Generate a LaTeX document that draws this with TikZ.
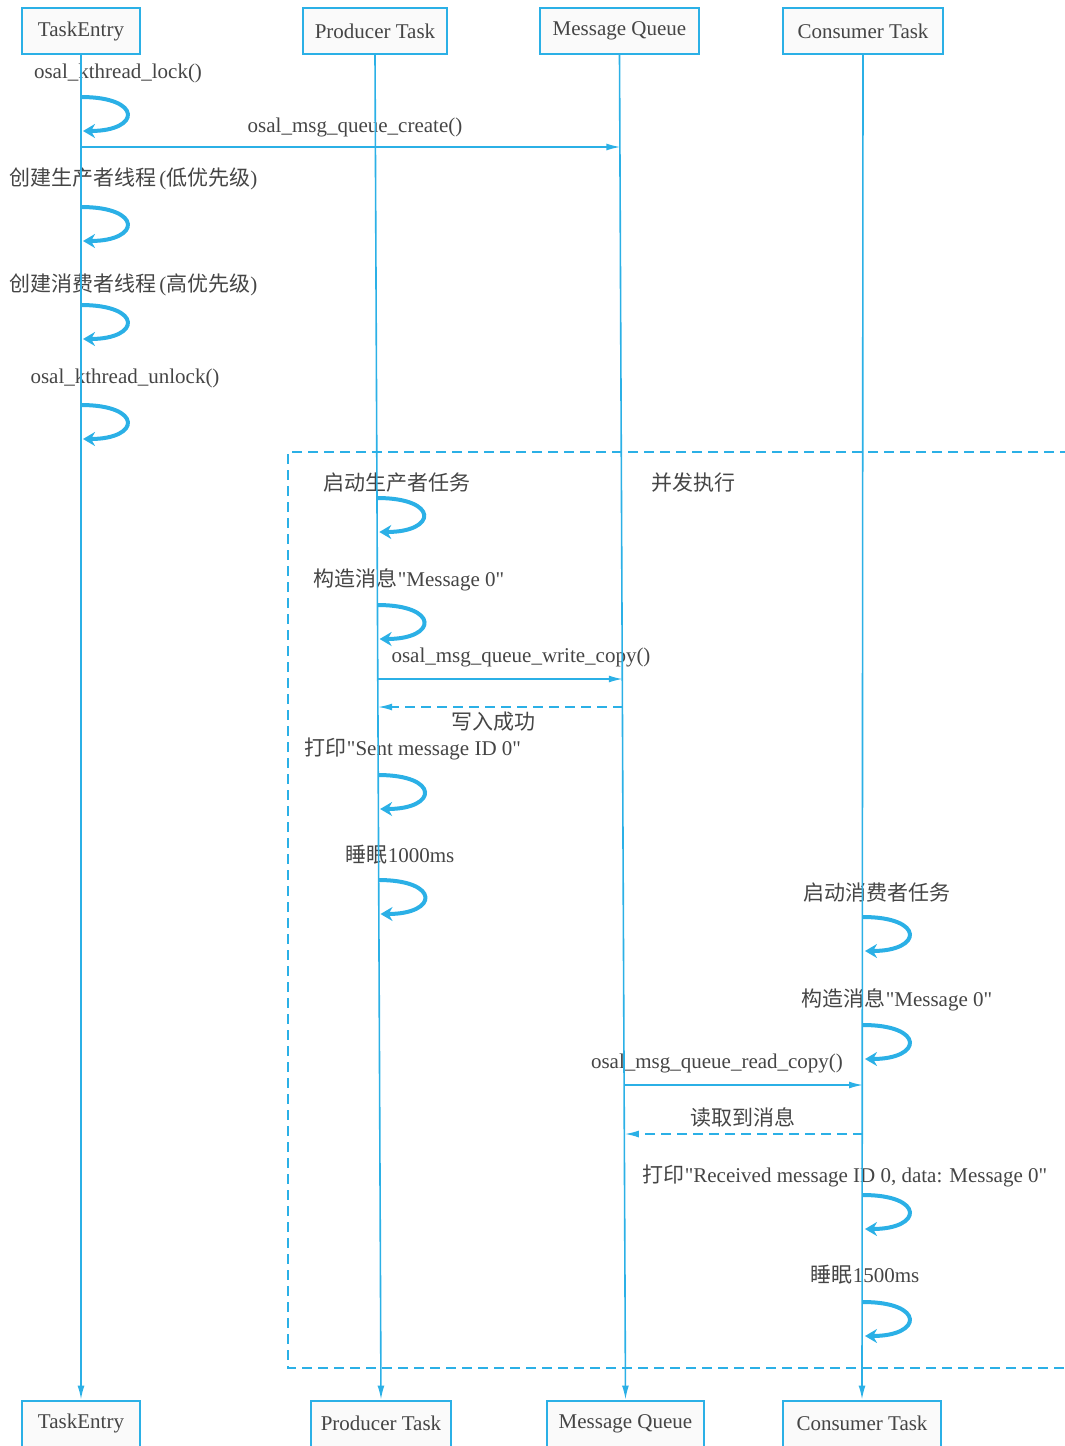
\documentclass[tikz,border=0pt]{standalone}
\usepackage{fontspec}
\setmainfont{Liberation Serif}[Ligatures=TeXOff]
\newfontfamily\cjk{Noto Sans CJK SC}
\usetikzlibrary{arrows.meta,calc}
\definecolor{lb}{HTML}{2BB0E6}
\definecolor{tx}{HTML}{454545}
\newcommand{\mycall}[3]{%
  \coordinate (#1s) at (#2,#3);
  \coordinate (#1e) at (#2+2,#3+34);
  \draw[selfloop] (#1s) .. controls ($(#1s)+(62,0)$) and ($(#1e)+(58,0)$) .. (#1e);}
\begin{document}
\begin{tikzpicture}[x=0.5pt,y=-0.5pt,
  box/.style={draw=lb, line width=1pt, fill=black!2, text=tx, minimum height=23pt, inner sep=0pt, font=\fontsize{10.5}{12}\selectfont},
  lbl/.style={text=tx, inner sep=1pt, font=\fontsize{10.5}{12}\selectfont},
  life/.style={draw=lb, line width=0.8pt, -{Latex[length=7pt,width=3.5pt]}},
  msg/.style={draw=lb, line width=0.8pt, -{Latex[length=7pt,width=3.5pt]}},
  ret/.style={msg, dash pattern=on 5pt off 3pt},
  selfloop/.style={draw=lb, line width=2pt, -{Stealth[length=6pt,width=7pt]}},
  frame/.style={draw=lb, line width=1pt, dash pattern=on 5pt off 3pt}]
\useasboundingbox (0,0) rectangle (1065,1446);

% participant boxes
\node[box, minimum width=59pt] (TEa) at (81,31) {TaskEntry};
\node[box, minimum width=72pt] (PTa) at (375,31) {Producer Task};
\node[box, minimum width=79.5pt] (MQa) at (619.5,31) {Message Queue};
\node[box, minimum width=80pt] (CTa) at (863,31) {Consumer Task};
\node[box, minimum width=59pt] (TEb) at (81,1423.5) {TaskEntry};
\node[box, minimum width=70pt] (PTb) at (381,1423.5) {Producer Task};
\node[box, minimum width=78.5pt] (MQb) at (625.5,1423.5) {Message Queue};
\node[box, minimum width=79pt] (CTb) at (862,1423.5) {Consumer Task};

% dashed frame
\coordinate (F1) at (1070,452);
\coordinate (F2) at (288,452);
\coordinate (F3) at (288,1368);
\coordinate (F4) at (1070,1368);
\draw[frame] (F1) -- (F2) -- (F3) -- (F4);

% labels
\node[lbl] (L1) at (118,73) {osal\_kthread\_lock()};
\node[lbl] (L2) at (355,127) {osal\_msg\_queue\_create()};
\node[lbl, anchor=west] (L3) at (7,179) {{\cjk 创建生产者线程}\hspace{1.5pt}({\cjk 低优先级})};
\node[lbl, anchor=west] (L4) at (7,285) {{\cjk 创建消费者线程}\hspace{1.5pt}({\cjk 高优先级})};
\node[lbl] (L5) at (125,378) {osal\_kthread\_unlock()};
\node[lbl] (L6) at (397,483) {\cjk 启动生产者任务};
\node[lbl] (L7) at (693,483) {\cjk 并发执行};
\node[lbl] (L8) at (409,580) {{\cjk 构造消息}"Message 0"};
\node[lbl] (L9) at (521,657) {osal\_msg\_queue\_write\_copy()};
\node[lbl] (L10) at (493,722) {\cjk 写入成功};
\node[lbl] (L11) at (413,749) {{\cjk 打印}"Sent message ID 0"};
\node[lbl] (L12) at (400,855) {{\cjk 睡眠}1000ms};
\node[lbl] (L13) at (877,893) {\cjk 启动消费者任务};
\node[lbl] (L14) at (897,1000) {{\cjk 构造消息}"Message 0"};
\node[lbl] (L15) at (717,1063) {osal\_msg\_queue\_read\_copy()};
\node[lbl] (L16) at (743,1117) {\cjk 读取到消息};
\node[lbl] (L17) at (845,1176) {{\cjk 打印}"Received message ID 0, data: Message 0"};
\node[lbl] (L18) at (865,1275) {{\cjk 睡眠}1500ms};

% lifelines
\draw[life] (TEa.south) -- (TEb.north);
\draw[life] (PTa.south) -- (PTb.north);
\draw[life] (MQa.south) -- (MQb.north);
\draw[life] (CTa.south) -- (CTb.north);

% self calls
\mycall{s1}{81}{97}
\mycall{s2}{81}{207}
\mycall{s3}{81}{305}
\mycall{s4}{81}{405}
\mycall{p1}{377.3}{498}
\mycall{p2}{377.6}{605}
\mycall{p3}{378.1}{775}
\mycall{p4}{378.5}{880}
\mycall{c1}{863}{917}
\mycall{c2}{863}{1025}
\mycall{c3}{863}{1195}
\mycall{c4}{863}{1302}

% messages
\coordinate (m1a) at (81,147);
\coordinate (m1b) at (620.4,147);
\draw[msg] (m1a) -- (m1b);
\coordinate (m2a) at (378,679);
\coordinate (m2b) at (622.8,679);
\draw[msg] (m2a) -- (m2b);
\coordinate (m3a) at (622.9,707);
\coordinate (m3b) at (378.1,707);
\draw[ret] (m3a) -- (m3b);
\coordinate (m4a) at (624.6,1085);
\coordinate (m4b) at (863,1085);
\draw[msg] (m4a) -- (m4b);
\coordinate (m5a) at (863,1134);
\coordinate (m5b) at (624.8,1134);
\draw[ret] (m5a) -- (m5b);
\end{tikzpicture}
\end{document}
